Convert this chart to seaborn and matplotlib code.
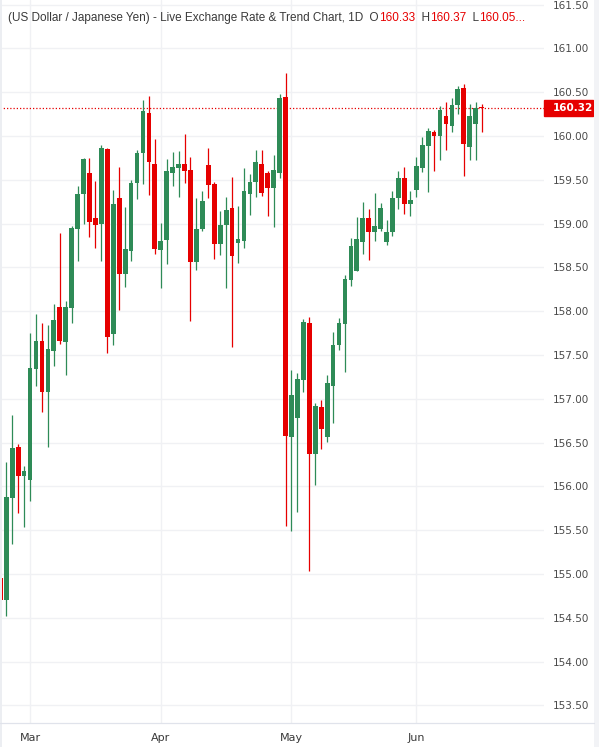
import numpy as np
import pandas as pd
import matplotlib
matplotlib.use('Agg')
import matplotlib.pyplot as plt
import matplotlib.transforms as mtransforms
from matplotlib.patches import Rectangle
from matplotlib.lines import Line2D
import seaborn as sns

# USD/JPY daily candles, first bar on a Monday
start_date = '2026-02-23'
opens = [154.96, 154.70, 155.87, 156.45, 156.12, 156.07, 157.34, 157.66, 157.08, 157.55,
         158.05, 157.65, 158.04, 158.94, 159.34, 159.58, 159.06, 159.00, 159.85, 157.74,
         159.29, 158.43, 158.69, 159.46, 159.81, 160.26, 159.68, 158.70, 158.81, 159.58,
         159.63, 159.68, 159.61, 158.56, 158.94, 159.67, 159.45, 158.77, 158.99, 159.18,
         158.78, 158.80, 159.34, 159.47, 159.68, 159.58, 159.41, 159.58, 160.45, 156.56,
         156.78, 157.22, 157.87, 156.37, 156.91, 156.57, 157.15, 157.62, 157.86, 158.36,
         158.46, 158.79, 159.06, 158.91, 158.94, 158.79, 158.90, 159.29, 159.52, 159.23,
         159.38, 159.64, 159.89, 160.05, 160.00, 160.23, 160.12, 160.35, 160.55, 159.88,
         160.14, 160.33]
highs = [155.00, 156.28, 156.82, 156.48, 156.23, 157.75, 157.97, 157.87, 157.84, 158.08,
         158.89, 158.12, 158.97, 159.43, 159.75, 159.75, 159.49, 159.90, 159.86, 159.38,
         159.65, 159.19, 159.50, 159.84, 160.41, 160.46, 159.97, 159.01, 159.74, 159.82,
         159.83, 160.02, 159.76, 159.29, 159.37, 159.86, 159.47, 159.14, 159.30, 159.53,
         159.20, 159.63, 159.57, 159.84, 159.84, 159.60, 159.78, 160.48, 160.72, 157.33,
         157.29, 157.91, 157.93, 156.95, 156.99, 157.27, 157.76, 157.92, 158.41, 158.84,
         159.08, 159.25, 159.17, 159.35, 159.24, 159.04, 159.37, 159.60, 159.65, 159.37,
         159.76, 159.99, 160.09, 160.07, 160.34, 160.39, 160.43, 160.57, 160.59, 160.37,
         160.39, 160.37]
lows = [154.68, 154.52, 155.34, 155.70, 155.54, 155.83, 157.15, 156.85, 156.45, 157.38,
        157.63, 157.27, 157.87, 158.57, 159.00, 158.85, 158.72, 158.57, 157.52, 157.61,
        158.02, 158.28, 158.57, 159.28, 159.45, 159.33, 158.65, 158.26, 158.54, 159.43,
        159.30, 159.46, 157.89, 158.47, 158.92, 159.29, 158.60, 158.64, 158.26, 157.59,
        158.55, 158.72, 159.10, 159.30, 159.31, 159.09, 158.96, 159.52, 155.55, 155.49,
        155.71, 157.08, 155.04, 156.02, 156.43, 156.51, 156.73, 157.56, 157.31, 158.29,
        158.46, 158.65, 158.59, 158.80, 158.92, 158.76, 158.86, 159.17, 159.11, 159.09,
        159.30, 159.59, 159.36, 159.60, 159.73, 159.84, 160.05, 160.25, 159.54, 159.73,
        159.73, 160.05]
closes = [154.70, 155.88, 156.44, 156.12, 156.18, 157.35, 157.66, 157.08, 157.57, 157.90,
          157.66, 158.05, 158.95, 159.34, 159.74, 159.02, 158.99, 159.86, 157.71, 159.22,
          158.43, 158.71, 159.46, 159.81, 160.29, 159.70, 158.71, 158.80, 159.60, 159.65,
          159.68, 159.60, 158.56, 158.94, 159.26, 159.44, 158.77, 158.98, 159.16, 158.63,
          158.82, 159.37, 159.47, 159.70, 159.35, 159.41, 159.61, 160.43, 156.58, 157.04,
          157.23, 157.88, 156.37, 156.92, 156.66, 157.18, 157.61, 157.87, 158.37, 158.74,
          158.82, 159.06, 158.91, 158.97, 159.18, 158.90, 159.29, 159.52, 159.23, 159.27,
          159.66, 159.90, 160.06, 160.00, 160.30, 160.14, 160.35, 160.54, 159.91, 160.23,
          160.32, 160.32]
last_price = 160.32
price_ticks = [153.5, 154.0, 154.5, 155.0, 155.5, 156.0, 156.5, 157.0, 157.5,
               158.0, 158.5, 159.0, 159.5, 160.0, 160.5, 161.0, 161.5]
title = '(US Dollar / Japanese Yen) - Live Exchange Rate & Trend Chart, 1D'

UP = '#2e8b57'
DOWN = '#e60000'
GRID = '#f0f1f4'
TXT = '#3a3a3a'

df = pd.DataFrame({'date': pd.bdate_range(start_date, periods=len(opens)),
                   'open': opens, 'high': highs, 'low': lows, 'close': closes})
df['x'] = np.arange(len(df))
df['color'] = np.where(df['close'] >= df['open'], UP, DOWN)
df['body_lo'] = df[['open', 'close']].min(axis=1)
df['body_h'] = (df['close'] - df['open']).abs().clip(lower=0.012)

# first bar of every month, skipping the partial first month
month_first = df.groupby(df['date'].dt.to_period('M'))['x'].min().iloc[1:]
month_labels = [p.strftime('%b') for p in month_first.index]

sns.set_theme(style='white')
plt.rcParams['font.family'] = ['DejaVu Sans']

W, H = 599, 747
fig = plt.figure(figsize=(W / 100, H / 100), dpi=100)
fig.patch.set_facecolor('white')
ax = fig.add_axes([0, 24 / H, 544 / W, 723 / H])
ax.set_facecolor('white')

# candles
ax.vlines(df['x'], df['low'], df['high'], colors=df['color'], lw=0.9, zorder=3)
ax.bar(df['x'], df['body_h'], bottom=df['body_lo'], width=0.8,
       color=df['color'], linewidth=0, zorder=4)

# last price line + tag
ax.axhline(last_price, color=DOWN, lw=0.9, ls=(0, (1, 1.6)), zorder=2)
blend = mtransforms.blended_transform_factory(ax.transAxes, ax.transData)
ax.add_patch(Rectangle((1.0, last_price - 0.092), 49 / 544, 0.184, transform=blend,
                       color=DOWN, clip_on=False, zorder=5))
ax.text(1 + 9 / 544, last_price, f'{last_price:.2f}', transform=blend, color='white',
        fontsize=7.5, fontweight='bold', va='center', ha='left', zorder=6, clip_on=False)

ax.set_xlim(-0.06, 91.5)
ax.set_ylim(153.30, 161.553)
ax.set_yticks(price_ticks)
ax.set_yticklabels([f'{v:.2f}' for v in price_ticks])
ax.yaxis.tick_right()
ax.set_xticks(month_first.values)
ax.set_xticklabels(month_labels)
ax.tick_params(axis='y', length=0, pad=6.5, labelsize=7.5, labelcolor='#4a4a4a')
ax.tick_params(axis='x', length=0, pad=7, labelsize=8, labelcolor=TXT)
ax.grid(True, color=GRID, lw=1)
ax.set_axisbelow(True)
for s in ['top', 'left', 'right', 'bottom']:
    ax.spines[s].set_visible(False)

# frame lines
fig.add_artist(Line2D([0, 594 / W], [24 / H, 24 / H], color='#e0e3eb', lw=0.9))
fig.add_artist(Rectangle((0, 0), 1.5 / W, 1, color='#eceef2', lw=0))
fig.add_artist(Rectangle((594 / W, 0), 5 / W, 1, color='#f2f3f6', lw=0))

# legend-style header
t = fig.text(8 / W, 1 - 18 / H, title, color=TXT, fontsize=8.5,
             family='Liberation Sans', va='center', ha='left')
pieces = [('  O', TXT), (f'{opens[-1]:.2f}', DOWN), ('  H', TXT), (f'{highs[-1]:.2f}', DOWN),
          ('  L', TXT), (f'{lows[-1]:.2f}...', DOWN)]
for s, c in pieces:
    t = ax.annotate(s, xy=(1, 0), xycoords=t, va='bottom', ha='left', color=c,
                    fontsize=8.5, family='Liberation Sans', annotation_clip=False)

fig.savefig('out.png', dpi=100)
